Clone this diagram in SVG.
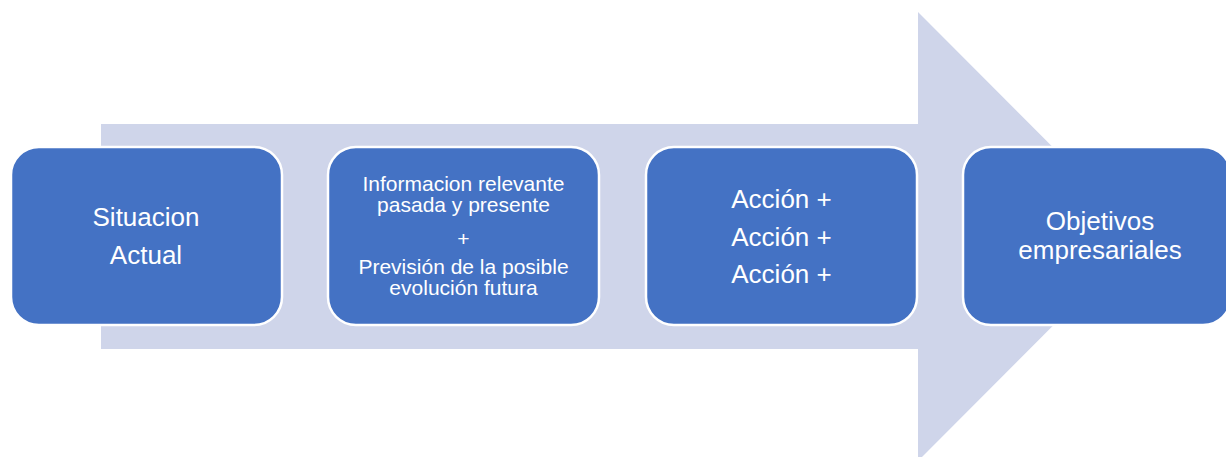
<svg xmlns="http://www.w3.org/2000/svg" width="1226" height="457" viewBox="0 0 1226 457">
<style>
.box{fill:#4472C4;stroke:#FFFFFF;stroke-width:2.5}
.t{fill:#FFFFFF;font-family:"Liberation Sans",Arial,sans-serif;text-anchor:middle}
.l{font-size:26px}
.s{font-size:21px}
</style>
<rect width="1226" height="457" fill="#FFFFFF"/>
<g id="arrow">
<polygon points="101,124 918,124 918,12 1142,236.5 918,461 918,349 101,349" fill="#CFD5EA"/>
</g>
<g id="connectors"></g>
<g id="node1">
<rect class="box" x="11" y="147" width="271" height="178" rx="28" ry="28"/>
<text class="t l" x="146" y="226">Situacion</text>
<text class="t l" x="146" y="264">Actual</text>
</g>
<g id="node2">
<rect class="box" x="328" y="147" width="271" height="178" rx="28" ry="28"/>
<text class="t s" x="463.5" y="191">Informacion relevante</text>
<text class="t s" x="463.5" y="212">pasada y presente</text>
<text class="t s" x="463.5" y="246">+</text>
<text class="t s" x="463.5" y="274">Previsión de la posible</text>
<text class="t s" x="463.5" y="295">evolución futura</text>
</g>
<g id="node3">
<rect class="box" x="646" y="147" width="271" height="178" rx="28" ry="28"/>
<text class="t l" x="781.5" y="208">Acción +</text>
<text class="t l" x="781.5" y="245.5">Acción +</text>
<text class="t l" x="781.5" y="283">Acción +</text>
</g>
<g id="node4">
<rect class="box" x="963" y="147" width="268" height="178" rx="28" ry="28"/>
<text class="t l" x="1100" y="230">Objetivos</text>
<text class="t l" x="1100" y="258.5">empresariales</text>
</g>
</svg>
